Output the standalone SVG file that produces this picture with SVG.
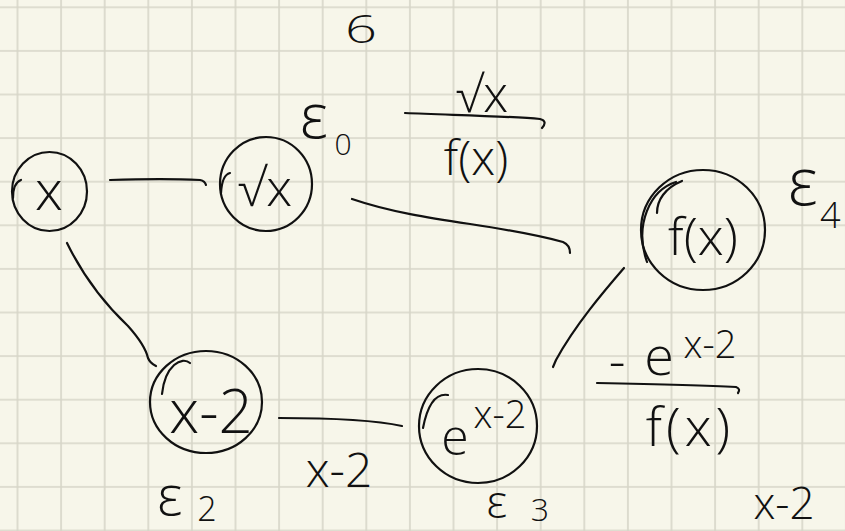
<svg xmlns="http://www.w3.org/2000/svg" width="845" height="531" viewBox="0 0 845 531">
<defs>
<pattern id="grid" patternUnits="userSpaceOnUse" x="-4.3" y="-14.5" width="43.6" height="43.6">
<path d="M21.8,0 V43.6 M0,21.8 H43.6" stroke="#d6d5c8" stroke-width="1.6" fill="none"/>
</pattern>
<style>
.ink{fill:none;stroke:#111;stroke-width:2.2;stroke-linecap:round;stroke-linejoin:round}
.t{font-family:"Open Sans","Liberation Sans",sans-serif;font-weight:300;fill:#111;text-anchor:middle}
.s{text-anchor:start}
</style>
</defs>
<rect width="845" height="531" fill="#f7f6ea"/>
<rect width="845" height="531" fill="url(#grid)"/>

<g id="connectors" class="ink">
<path d="M110,180 C140,179 180,179 200,180 Q205,181 206,185"/>
<path d="M352,199 C390,212 430,218 470,224 C510,230 545,237 563,242 Q570,245 570,253"/>
<path d="M67,243 Q90,290 128,326 Q145,345 148,358 Q150,363 156,366"/>
<path d="M279,418 C320,418 370,419 402,426"/>
<path d="M624,268 C605,290 575,325 556,360 L553,367"/>
</g>

<g id="node-x">
<ellipse class="ink" cx="49.5" cy="191.5" rx="37.5" ry="39.5"/>
<path class="ink" d="M21,180 Q13,183 13,198"/>
<text class="t" x="49" y="210" font-size="56">x</text>
</g>

<g id="node-sqrtx">
<ellipse class="ink" cx="266" cy="184" rx="46" ry="47"/>
<path class="ink" d="M230,173 Q222,175 221,193"/>
<text class="t" x="265" y="206" font-size="52">√x</text>
</g>

<g id="node-fx">
<ellipse class="ink" cx="703" cy="230" rx="62" ry="60"/>
<path class="ink" d="M676,182 C650,190 634,225 647,262"/>
<path class="ink" d="M682,181 C665,188 657,200 657,213"/>
<text class="t" x="703" y="255" font-size="52">f(x)</text>
</g>

<g id="node-xm2">
<ellipse class="ink" cx="206" cy="402" rx="56" ry="51"/>
<path class="ink" d="M190,363 C182,356 165,365 162,394"/>
<text class="t" x="211" y="433" font-size="60">x-2</text>
</g>

<g id="node-exp">
<ellipse class="ink" cx="478" cy="426" rx="59" ry="57"/>
<path class="ink" d="M448,395 Q430,392 423,428"/>
<text class="t" x="455" y="455" font-size="50">e</text>
<text class="t" x="500" y="428" font-size="38">x-2</text>
</g>

<g id="labels">
<text class="t" font-size="40" transform="translate(361,43) scale(1.4,0.95)">6</text>
<text class="t" x="314" y="138" font-size="62">ε</text>
<text class="t" x="343" y="155" font-size="30">0</text>
<text class="t" x="482" y="112" font-size="50">√x</text>
<path class="ink" d="M405,113 C450,115 510,116 540,119 Q548,121 542,128"/>
<text class="t" x="476" y="175" font-size="48">f(x)</text>
<text class="t" x="803" y="205" font-size="66">ε</text>
<text class="t s" x="820" y="228" font-size="36">4</text>
<text class="t" x="617" y="379" font-size="52">-</text>
<text class="t" x="659" y="375" font-size="54">e</text>
<text class="t" x="710" y="358" font-size="38">x-2</text>
<path class="ink" d="M597,383 C650,384 700,385 736,387 Q741,389 738,393"/>
<text class="t" x="690" y="446" font-size="54" letter-spacing="4">f(x)</text>
<text class="t" x="339" y="487" font-size="48">x-2</text>
<text class="t" x="170" y="515" font-size="56">ε</text>
<text class="t" x="207" y="521" font-size="34">2</text>
<text class="t" x="497" y="518" font-size="46">ε</text>
<text class="t" x="540" y="521" font-size="32">3</text>
<text class="t" x="784" y="519" font-size="44">x-2</text>
</g>
</svg>
